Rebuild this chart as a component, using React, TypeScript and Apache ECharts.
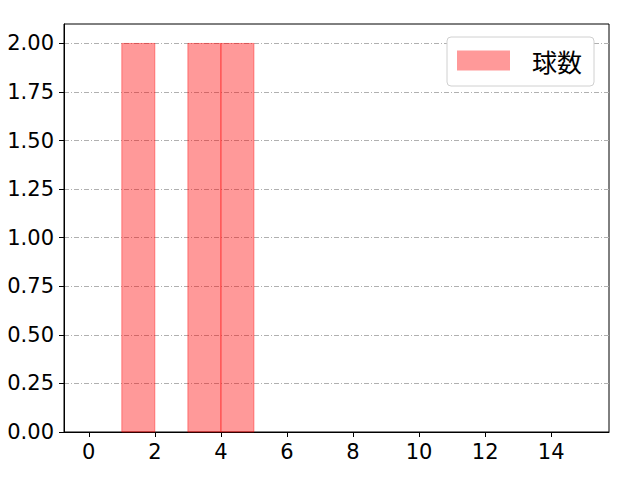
import { useEffect, useRef } from 'react';
import * as echarts from 'echarts';

// histogram bins: [start, end, count]
const binStarts = [1, 3, 4];
const binEnds = [2, 4, 5];
const binCounts = [2, 2, 2];

const xTickValues = [0, 2, 4, 6, 8, 10, 12, 14];
const yTickValues = [0, 0.25, 0.5, 0.75, 1.0, 1.25, 1.5, 1.75, 2.0];
const seriesName = '球数';

const FONT = '"Noto Sans CJK JP", "Noto Sans", sans-serif';
const NUM_FONT = '"DejaVu Sans", sans-serif';

export default function App() {
  const chartRef = useRef<HTMLDivElement>(null);

  useEffect(() => {
    if (!chartRef.current) return;
    const chart = echarts.init(chartRef.current, null, { renderer: 'svg' });

    const data = binStarts.map((s, i) => [s, binEnds[i], binCounts[i]]);

    const option = {
      animation: false,
      textStyle: { fontFamily: FONT },
      grid: {
        left: 64,
        right: 31,
        top: 24,
        bottom: 48,
        show: true,
        borderColor: '#000',
        borderWidth: 1,
        backgroundColor: 'transparent',
      },
      legend: {
        left: 447,
        top: 37,
        orient: 'vertical',
        padding: [11, 12, 13, 10],
        backgroundColor: '#fff',
        borderColor: '#d0d0d0',
        borderWidth: 1,
        borderRadius: 4,
        itemWidth: 53,
        itemHeight: 20,
        data: [{ name: seriesName, icon: 'rect' }],
        textStyle: {
          fontFamily: FONT,
          fontSize: 25,
          color: '#000',
          padding: [0, 0, 0, 17],
        },
      },
      xAxis: {
        type: 'value',
        min: -0.75,
        max: 15.75,
        axisLine: { show: true, onZero: false, lineStyle: { color: '#000', width: 1 } },
        axisTick: {
          show: true,
          length: 5,
          customValues: xTickValues,
          lineStyle: { color: '#000', width: 1 },
        },
        axisLabel: {
          customValues: xTickValues,
          color: '#000',
          fontSize: 21,
          fontFamily: NUM_FONT,
          margin: 9,
        },
        splitLine: { show: false },
      },
      yAxis: {
        type: 'value',
        min: 0,
        max: 2.1,
        interval: 0.25,
        axisLine: { show: true, onZero: false, lineStyle: { color: '#000', width: 1 } },
        axisTick: {
          show: true,
          length: 5,
          customValues: yTickValues,
          lineStyle: { color: '#000', width: 1 },
        },
        axisLabel: {
          customValues: yTickValues,
          color: '#000',
          fontSize: 21,
          fontFamily: NUM_FONT,
          margin: 10,
          formatter: (v: number) => v.toFixed(2),
        },
        splitLine: {
          show: true,
          lineStyle: { color: '#b0b0b0', width: 1, type: [5, 2, 1, 2] },
        },
      },
      series: [
        {
          name: seriesName,
          type: 'custom',
          itemStyle: { color: 'rgba(255,0,0,0.4)' },
          renderItem: (_params: any, api: any) => {
            const p0 = api.coord([api.value(0), api.value(2)]);
            const p1 = api.coord([api.value(1), 0]);
            return {
              type: 'rect',
              shape: { x: p0[0], y: p0[1], width: p1[0] - p0[0], height: p1[1] - p0[1] },
              style: {
                fill: 'rgba(255,0,0,0.4)',
                stroke: 'rgba(255,0,0,0.4)',
                lineWidth: 1,
              },
            };
          },
          encode: { x: [0, 1], y: 2 },
          data,
        },
      ],
    };

    chart.setOption(option as any);

    return () => {
      chart.dispose();
    };
  }, []);

  return (
    <div
      ref={chartRef}
      style={{ position: 'absolute', left: 0, top: 0, width: '640px', height: '480px' }}
    />
  );
}
